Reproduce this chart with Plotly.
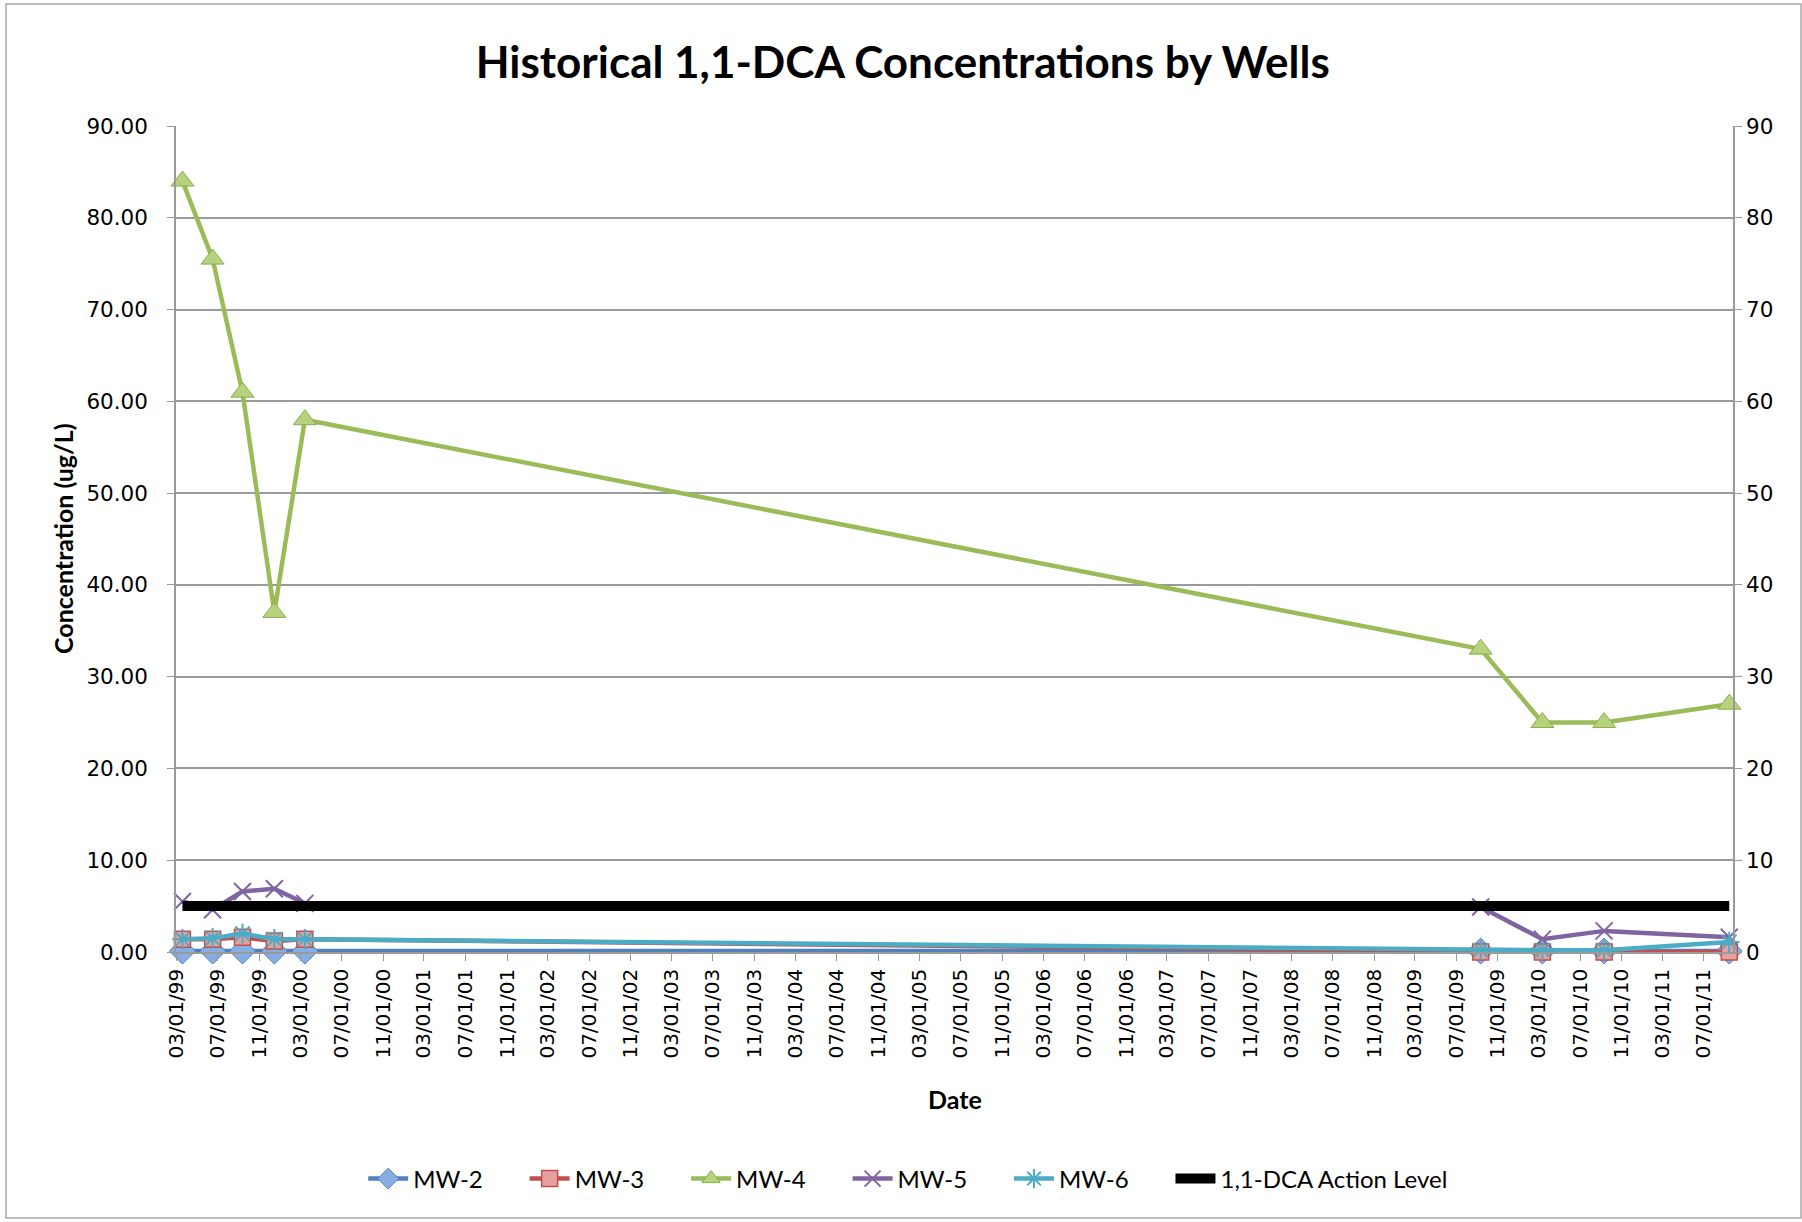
import plotly.graph_objects as go

# ---- data ----
dates = ["1999-03-20", "1999-06-17", "1999-09-13", "1999-12-16", "2000-03-15",
         "2009-09-11", "2010-03-12", "2010-09-10", "2011-09-14"]
mw2 = [0.1, 0.1, 0.1, 0.1, 0.1, 0.1, 0.1, 0.1, 0.1]
mw3 = [1.4, 1.4, 1.6, 1.2, 1.4, 0.0, 0.0, 0.0, 0.0]
mw4 = [84, 75.5, 61, 37, 58, 33, 25, 25, 27]
mw5 = [5.5, 4.6, 6.6, 6.9, 5.3, 4.9, 1.4, 2.3, 1.6]
mw6 = [1.4, 1.5, 2.0, 1.4, 1.4, 0.2, 0.2, 0.2, 1.1]
action_dates = ["1999-03-20", "2011-09-14"]
action_level = [5, 5]
names = ["MW-2", "MW-3", "MW-4", "MW-5", "MW-6", "1,1-DCA Action Level"]

pad = "\u00a0" * 6
series = [
    (mw2, "#4F81BD", dict(symbol="diamond", size=20, color="#86AEE3", line=dict(color="#4F81BD", width=1))),
    (mw3, "#C0504D", dict(symbol="square", size=16, color="#E8A09E", line=dict(color="#C0504D", width=1.5))),
    (mw4, "#9BBB59", dict(symbol="triangle-up", size=20, color="#B7D27E", line=dict(color="#8AAE4A", width=1))),
    (mw5, "#8064A2", dict(symbol="x-thin", size=17, color="#8064A2", line=dict(color="#8064A2", width=2))),
    (mw6, "#4BACC6", dict(symbol="asterisk", size=17, color="#4BACC6", line=dict(color="#4BACC6", width=2))),
]

fig = go.Figure()
for name, (vals, col, mk) in zip(names, series):
    fig.add_trace(go.Scatter(x=dates, y=vals, name=name + pad, mode="lines+markers",
                             line=dict(color=col, width=4.5), marker=mk, cliponaxis=False))
fig.add_trace(go.Scatter(x=action_dates, y=action_level, name=names[5], cliponaxis=False,
                         mode="lines", line=dict(color="black", width=10)))
# invisible trace to activate secondary axis
fig.add_trace(go.Scatter(x=action_dates, y=action_level, yaxis="y2", mode="lines",
                         line=dict(width=0), opacity=0, showlegend=False, hoverinfo="skip"))

grid = "#9A9A9A"
xfont = dict(family="DejaVu Sans", size=20, color="black")
yfont = dict(family="DejaVu Sans", size=21.5, color="black")
fig.update_layout(
    width=1802, height=1222,
    paper_bgcolor="white", plot_bgcolor="white",
    margin=dict(l=176, r=69, t=126, b=270),
    title=dict(text="<b>Historical 1,1-DCA Concentrations by Wells</b>",
               font=dict(family="Lato", size=44, color="black"),
               x=0.501, xanchor="center", y=1 - 63 / 1222, yanchor="middle", yref="container"),
    xaxis=dict(type="date", range=["1999-03-01", "2011-09-25"], tick0="1999-03-01", dtick="M4",
               tickformat="%m/%d/%y", tickangle=-90, ticks="outside", ticklen=7, tickcolor=grid,
               showline=True, linecolor=grid, linewidth=1.5, showgrid=False, zeroline=False,
               tickfont=xfont),
    yaxis=dict(range=[0, 90], dtick=10, tick0=0, tickformat=".2f", showgrid=True, gridcolor=grid,
               gridwidth=1.5, showline=True, linecolor=grid, linewidth=1.5, ticks="outside",
               ticklen=7, tickcolor=grid, zeroline=False, tickfont=yfont, ticklabelstandoff=15),
    yaxis2=dict(range=[0, 90], dtick=10, tick0=0, tickformat="d", overlaying="y", side="right",
                showgrid=False, showline=True, linecolor=grid, linewidth=1.5, ticks="outside",
                ticklen=7, tickcolor=grid, zeroline=False, tickfont=yfont),
    legend=dict(orientation="h", xref="container", yref="container", x=0.504, y=1 - 1179 / 1222,
                xanchor="center", yanchor="middle", font=dict(family="Lato", size=24, color="black"),
                itemwidth=40, bgcolor="rgba(0,0,0,0)"),
    showlegend=True,
    annotations=[
        dict(text="<b>Concentration (ug/L)</b>", xref="paper", yref="paper",
             x=(63 - 176) / 1557, y=0.5, textangle=-90, showarrow=False,
             xanchor="center", yanchor="middle", font=dict(family="Lato", size=25, color="black")),
        dict(text="<b>Date</b>", xref="paper", yref="paper", x=0.5, y=(952 - 1099) / 826,
             showarrow=False, xanchor="center", yanchor="middle",
             font=dict(family="Lato", size=25, color="black")),
    ],
    shapes=[dict(type="rect", xref="paper", yref="paper",
                 x0=(6 - 176) / 1557, x1=(1801 - 176) / 1557,
                 y0=(952 - 1218) / 826, y1=(952 - 4) / 826,
                 line=dict(color="#A8A8A8", width=1.5), fillcolor="rgba(0,0,0,0)", layer="below")],
)

fig.write_html("out.html", config={"displayModeBar": False},
               post_script="document.body.style.margin='0';document.body.style.overflow='hidden';")
